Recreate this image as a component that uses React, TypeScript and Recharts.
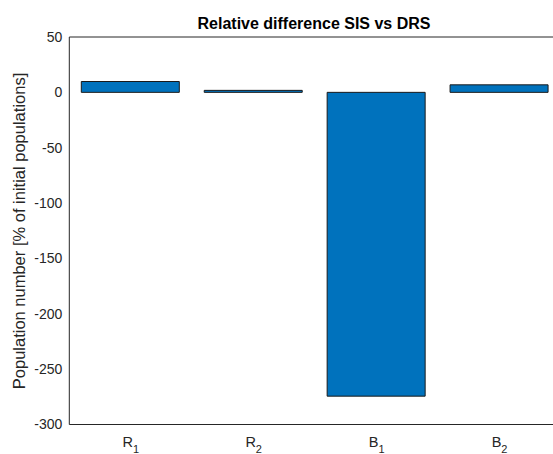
import React from 'react';
import { BarChart, Bar, XAxis, YAxis } from 'recharts';

const groups = ['R', 'R', 'B', 'B'];
const subscripts = ['1', '2', '1', '2'];
const positions = [1, 2, 3, 4];
const values = [9.8, 1.8, -274.4, 6.8];
const yTicks = [-300, -250, -200, -150, -100, -50, 0, 50];
const xDomain: [number, number] = [0.5, 4.5];
const yDomain: [number, number] = [-300, 50];

const data = positions.map((x, i) => ({ x, value: values[i] }));

const font = 'Liberation Sans, Arial, sans-serif';
const axisColor = '#262626';

function CatTick(props: any) {
  const { x, y, payload } = props;
  const i = positions.indexOf(payload.value);
  if (i < 0) return null;
  return (
    <text x={x} y={y} textAnchor="middle" fontFamily={font} fontSize={14.5} fill={axisColor} dy={22.5}>
      <tspan>{groups[i]}</tspan>
      <tspan fontSize={11} dy={6}>{subscripts[i]}</tspan>
    </text>
  );
}

export default function App() {
  return (
    <div style={{ position: 'absolute', left: 0, top: 0, width: 553, height: 454, overflow: 'hidden', background: '#fff' }}>
      <BarChart width={562} height={454} data={data} margin={{ top: 37, right: 1, bottom: 0, left: 0 }}>
        {/* label axes */}
        <XAxis
          xAxisId="bottom"
          dataKey="x"
          type="number"
          domain={xDomain}
          ticks={positions}
          allowDataOverflow
          height={29.5}
          axisLine={false}
          tickLine={false}
          tickSize={0}
          tickMargin={0}
          tick={<CatTick />}
        />
        <YAxis
          yAxisId="left"
          type="number"
          domain={yDomain}
          ticks={yTicks}
          width={69.3}
          axisLine={false}
          tickLine={false}
          tickSize={0}
          tickMargin={7}
          tick={{ fontFamily: font, fontSize: 14, fill: axisColor }}
        />
        {/* box lines with inward ticks */}
        <XAxis
          xAxisId="bottomIn"
          type="number"
          orientation="bottom"
          mirror
          domain={xDomain}
          ticks={positions}
          allowDataOverflow
          height={5}
          stroke={axisColor}
          tickSize={5}
          tick={false}
        />
        <XAxis
          xAxisId="topIn"
          type="number"
          orientation="top"
          mirror
          domain={xDomain}
          ticks={positions}
          allowDataOverflow
          height={5}
          stroke={axisColor}
          tickSize={5}
          tick={false}
        />
        <YAxis
          yAxisId="leftIn"
          type="number"
          orientation="left"
          mirror
          domain={yDomain}
          ticks={yTicks}
          width={5}
          stroke={axisColor}
          tickSize={5}
          tick={false}
        />
        <Bar
          xAxisId="bottom"
          yAxisId="left"
          dataKey="value"
          fill="#0072BD"
          stroke="#1a1a1a"
          strokeWidth={1}
          barSize={98}
          isAnimationActive={false}
        />
      </BarChart>
      <svg width={553} height={454} style={{ position: 'absolute', left: 0, top: 0, pointerEvents: 'none' }}>
        <text x={314} y={29} textAnchor="middle" fontFamily={font} fontWeight="bold" fontSize={16} fill="#000">
          Relative difference SIS vs DRS
        </text>
        <text
          x={25}
          y={231}
          transform="rotate(-90 25 231)"
          textAnchor="middle"
          fontFamily={font}
          fontSize={16.5}
          fill={axisColor}
        >
          Population number [% of initial populations]
        </text>
      </svg>
    </div>
  );
}
